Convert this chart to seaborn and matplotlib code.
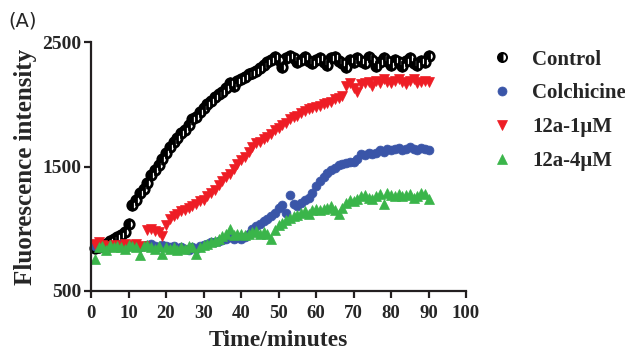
import numpy as np
import pandas as pd
import matplotlib
matplotlib.use("Agg")
import matplotlib.pyplot as plt
from matplotlib.lines import Line2D
import seaborn as sns

minutes = list(range(1, 91))

control = [845, 855, 870, 880, 900, 920, 935, 950, 975, 1040,
           1190, 1230, 1290, 1320, 1370, 1430, 1470, 1510, 1560, 1610,
           1660, 1700, 1730, 1770, 1790, 1830, 1880, 1900, 1940, 1970,
           2000, 2030, 2060, 2080, 2100, 2130, 2170, 2150, 2190, 2200,
           2220, 2240, 2250, 2270, 2290, 2320, 2340, 2360, 2380, 2360,
           2300, 2370, 2390, 2370, 2340, 2360, 2380, 2350, 2330, 2360,
           2370, 2340, 2320, 2370, 2380, 2350, 2330, 2300, 2360, 2340,
           2370, 2350, 2330, 2380, 2360, 2310, 2340, 2370, 2350, 2320,
           2360, 2340, 2310, 2350, 2370, 2330, 2320, 2350, 2340, 2390]

colchicine = [860, 850, 870, 860, 850, 870, 860, 880, 860, 870,
              860, 870, 850, 860, 870, 880, 860, 850, 870, 860,
              850, 860, 840, 850, 840, 830, 850, 840, 860, 870,
              880, 890, 890, 900, 910, 920, 930, 920, 930, 920,
              930, 960, 1000, 1020, 1040, 1060, 1080, 1100, 1130, 1170,
              1190, 1130, 1270, 1200, 1180, 1210, 1230, 1250, 1290, 1340,
              1380, 1420, 1450, 1470, 1490, 1510, 1520, 1530, 1540, 1540,
              1560, 1600, 1590, 1610, 1600, 1610, 1630, 1620, 1640, 1630,
              1640, 1650, 1630, 1640, 1660, 1640, 1630, 1650, 1640, 1630]

c12a_1 = [880, 890, 870, 860, 850, 870, 860, 850, 880, 860,
          870, 880, 850, 860, 990, 1000, 980, 970, 940, 1030,
          1080, 1100, 1120, 1140, 1150, 1170, 1180, 1200, 1220, 1230,
          1260, 1290, 1310, 1350, 1380, 1420, 1440, 1480, 1520, 1550,
          1580, 1620, 1660, 1690, 1700, 1720, 1740, 1760, 1790, 1810,
          1830, 1850, 1880, 1900, 1910, 1930, 1950, 1960, 1970, 1980,
          1990, 2000, 2010, 2020, 2040, 2050, 2070, 2150, 2170, 2130,
          2100, 2160, 2170, 2180, 2150, 2190, 2170, 2200, 2180, 2170,
          2190, 2200, 2180, 2160, 2190, 2200, 2170, 2180, 2190, 2180]

c12a_4 = [760, 850, 860, 830, 870, 850, 860, 850, 840, 870,
          860, 850, 790, 860, 870, 850, 840, 860, 800, 850,
          840, 850, 830, 850, 840, 860, 850, 800, 850, 870,
          880, 890, 900, 920, 940, 960, 1000, 950, 960, 960,
          950, 960, 970, 980, 960, 970, 960, 920, 990, 1030,
          1050, 1070, 1090, 1100, 1110, 1130, 1140, 1120, 1150, 1160,
          1150, 1160, 1170, 1180, 1150, 1120, 1170, 1210, 1230, 1220,
          1240, 1260, 1270, 1250, 1240, 1260, 1280, 1200, 1290, 1270,
          1260, 1280, 1260, 1270, 1280, 1250, 1260, 1290, 1280, 1240]

series_names = ["Control", "Colchicine", "12a-1\u03bcM", "12a-4\u03bcM"]
series_values = [control, colchicine, c12a_1, c12a_4]
x_ticks = list(range(0, 101, 10))
y_ticks = [500, 1500, 2500]

styles = {
    "Control": dict(marker="o", color="black", markerfacecolor="black",
                    markerfacecoloralt="white", fillstyle="left",
                    markeredgecolor="black", markersize=6.8, markeredgewidth=2.0),
    "Colchicine": dict(marker="o", color="#3a55a8", markerfacecolor="#3a55a8",
                       markeredgecolor="#3a55a8", markersize=6.4, markeredgewidth=0.5),
    "12a-1\u03bcM": dict(marker="v", color="#ee1d25", markerfacecolor="#ee1d25",
                         markeredgecolor="#ee1d25", markersize=6.8, markeredgewidth=0.5),
    "12a-4\u03bcM": dict(marker="^", color="#3ab54a", markerfacecolor="#3ab54a",
                         markeredgecolor="#3ab54a", markersize=6.8, markeredgewidth=0.5),
}

df = pd.concat([pd.DataFrame({"t": minutes, "v": vals, "grp": name})
                for name, vals in zip(series_names, series_values)])

sns.set_style("ticks")
plt.rcParams["font.family"] = ["Liberation Serif", "DejaVu Serif"]

fig = plt.figure(figsize=(6.25, 3.51), dpi=100)
ax = fig.add_axes([0.1456, 0.171, 0.600, 0.709])

for name in series_names:
    sub = df[df["grp"] == name]
    sns.lineplot(data=sub, x="t", y="v", ax=ax, estimator=None, sort=False,
                 linestyle="", legend=False, clip_on=False, **styles[name])

ax.set_xlim(0, 100)
ax.set_ylim(500, 2500)
ax.set_xticks(x_ticks)
ax.set_yticks(y_ticks)
ax.set_xticklabels([str(v) for v in x_ticks], fontsize=13.5, fontweight="bold")
ax.set_yticklabels([str(v) for v in y_ticks], fontsize=14, fontweight="bold")
ax.set_xlabel("Time/minutes", fontsize=17, fontweight="bold", labelpad=6)
ax.set_ylabel("Fluorescence intensity", fontsize=18, fontweight="bold", labelpad=4)
for s in ["top", "right"]:
    ax.spines[s].set_visible(False)
for s in ["left", "bottom"]:
    ax.spines[s].set_linewidth(1.6)
    ax.spines[s].set_color("#231f20")
ax.tick_params(axis="y", width=1.6, length=5, color="#231f20", pad=2)
ax.tick_params(axis="x", width=1.6, length=5, color="#231f20", pad=5)

handles = []
for name in series_names:
    st = dict(styles[name])
    st["markersize"] = 6.5
    st["markeredgewidth"] = min(st["markeredgewidth"], 1.4)
    handles.append(Line2D([], [], linestyle="", **st))
leg = fig.legend(handles, series_names, loc="upper left", bbox_to_anchor=(0.753, 0.912),
                 frameon=False, handletextpad=0.85, labelspacing=0.66, handlelength=1.2,
                 borderpad=0.4,
                 prop={"family": ["Liberation Serif", "DejaVu Serif"], "weight": "bold", "size": 15})

fig.text(0.013, 0.968, "(A)", fontsize=14, family=["DejaVu Sans"], va="top", ha="left")

fig.savefig("out.png", dpi=100)
